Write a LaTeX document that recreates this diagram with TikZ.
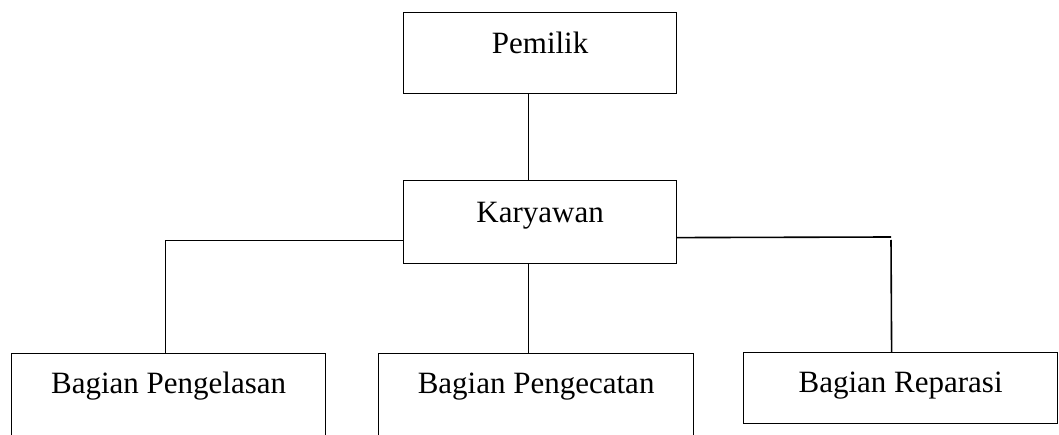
\documentclass[tikz,border=0pt]{standalone}
\usepackage{fontspec}
\setmainfont{Liberation Serif}
\begin{document}
\begin{tikzpicture}[x=1pt,y=1pt,
  orgbox/.style={draw, line width=1.2pt, inner sep=0pt, anchor=north west, align=center, font=\fontsize{31}{36}\selectfont},
  conn/.style={line width=1.6pt}]
\useasboundingbox (0,0) rectangle (1059,434);
% boxes (image y down -> tikz y = 434 - y)
\node[orgbox, minimum width=273pt, text height=41pt, text depth=40pt] (p) at (403,422) {Pemilik};
\node[orgbox, minimum width=273pt, text height=42pt, text depth=41pt] (k) at (403,254) {Karyawan};
\node[orgbox, minimum width=314pt, text height=40pt, text depth=70pt] (b1) at (11,81) {Bagian Pengelasan};
\node[orgbox, minimum width=315pt, text height=40pt, text depth=70pt] (b2) at (378,81) {Bagian Pengecatan};
\node[orgbox, minimum width=314pt, text height=40pt, text depth=31pt] (b3) at (743,82) {Bagian Reparasi};
% connectors
\draw[conn] ([xshift=-11.5pt]p.south) -- ([xshift=-11.5pt]k.north);
\draw[conn] ([xshift=-11.5pt]k.south) -- ([xshift=-7.5pt]b2.north);
\draw[conn] ([yshift=-18.5pt]k.west) -| ([xshift=-3pt]b1.north);
\coordinate (rj) at (891,197);
\coordinate (rj2) at (891,194);
\draw[conn] ([yshift=-15.5pt]k.east) -- (rj);
\draw[conn] (rj2) -- ([xshift=-9pt]b3.north);
\end{tikzpicture}
\end{document}
